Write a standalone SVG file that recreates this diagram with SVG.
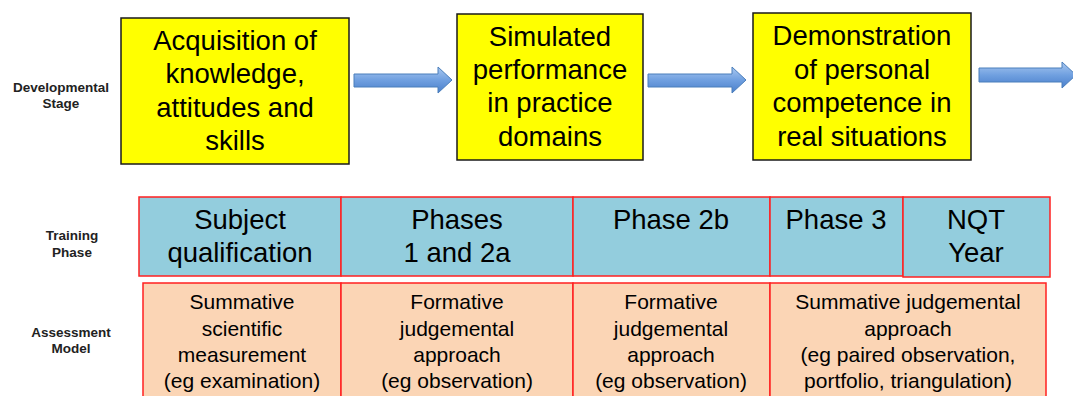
<svg xmlns="http://www.w3.org/2000/svg" width="1073" height="396" viewBox="0 0 1073 396">
<defs>
<linearGradient id="ag" x1="0" y1="0" x2="0" y2="1">
<stop offset="0" stop-color="#a9c8f0"/>
<stop offset="0.5" stop-color="#70a0e0"/>
<stop offset="1" stop-color="#4a7fcb"/>
</linearGradient>
<style>
.lbl{font-family:"Liberation Sans",Arial,sans-serif;font-weight:bold;font-size:13.5px;fill:#222;text-anchor:middle}
.stage rect{fill:#ffff00;stroke:#1a1a1a;stroke-width:1.5}
.stage text{font-family:"Liberation Sans",Arial,sans-serif;font-size:27.5px;fill:#000;text-anchor:middle}
.phase rect{fill:#93cddd;stroke:#ff2020;stroke-width:1.5}
.phase text{font-family:"Liberation Sans",Arial,sans-serif;font-size:27.5px;fill:#000;text-anchor:middle}
.assess rect{fill:#fbd5b5;stroke:#ff2020;stroke-width:1.5}
.assess text{font-family:"Liberation Sans",Arial,sans-serif;font-size:21px;fill:#000;text-anchor:middle}
.arrow{fill:url(#ag);stroke:#4a7ebb;stroke-width:1}
</style>
</defs>
<rect width="1073" height="396" fill="#fff"/>

<g id="row-labels">
<text class="lbl" x="61" y="92">Developmental</text>
<text class="lbl" x="61" y="108">Stage</text>
<text class="lbl" x="72" y="240">Training</text>
<text class="lbl" x="72" y="257">Phase</text>
<text class="lbl" x="71" y="337">Assessment</text>
<text class="lbl" x="71" y="353">Model</text>
</g>

<g id="stage1" class="stage">
<rect x="121" y="18" width="228" height="146"/>
<text x="235" y="50">Acquisition of</text>
<text x="235" y="83">knowledge,</text>
<text x="235" y="117">attitudes and</text>
<text x="235" y="150">skills</text>
</g>
<g id="stage2" class="stage">
<rect x="457" y="14" width="186" height="146"/>
<text x="550" y="46">Simulated</text>
<text x="550" y="79">performance</text>
<text x="550" y="112">in practice</text>
<text x="550" y="146">domains</text>
</g>
<g id="stage3" class="stage">
<rect x="753" y="13" width="218" height="147"/>
<text x="862" y="45">Demonstration</text>
<text x="862" y="79">of personal</text>
<text x="862" y="112">competence in</text>
<text x="862" y="146">real situations</text>
</g>

<g id="connectors">
<polygon class="arrow" points="354,74 438,74 438,67 452,80 438,93 438,87 354,87"/>
<polygon class="arrow" points="648,74 732,74 732,67 746,80 732,93 732,87 648,87"/>
<polygon class="arrow" points="979,68 1062,68 1062,62 1076,75 1062,88 1062,82 979,82"/>
</g>

<g id="phase-subject" class="phase">
<rect x="139" y="197" width="202" height="79"/>
<text x="240" y="229">Subject</text>
<text x="240" y="262">qualification</text>
</g>
<g id="phase-1-2a" class="phase">
<rect x="341" y="197" width="232" height="79"/>
<text x="457" y="229">Phases</text>
<text x="457" y="262">1 and 2a</text>
</g>
<g id="phase-2b" class="phase">
<rect x="573" y="197" width="197" height="79"/>
<text x="671" y="229">Phase 2b</text>
</g>
<g id="phase-3" class="phase">
<rect x="770" y="197" width="133" height="79"/>
<text x="836" y="229">Phase 3</text>
</g>
<g id="phase-nqt" class="phase">
<rect x="903" y="197" width="147" height="80"/>
<text x="976" y="229">NQT</text>
<text x="976" y="262">Year</text>
</g>

<g id="assess-summative-sci" class="assess">
<rect x="143" y="283" width="198" height="120"/>
<text x="242" y="309">Summative</text>
<text x="242" y="336">scientific</text>
<text x="242" y="362">measurement</text>
<text x="242" y="388">(eg examination)</text>
</g>
<g id="assess-formative-1" class="assess">
<rect x="341" y="283" width="232" height="120"/>
<text x="457" y="309">Formative</text>
<text x="457" y="336">judgemental</text>
<text x="457" y="362">approach</text>
<text x="457" y="388">(eg observation)</text>
</g>
<g id="assess-formative-2" class="assess">
<rect x="573" y="283" width="197" height="120"/>
<text x="671" y="309">Formative</text>
<text x="671" y="336">judgemental</text>
<text x="671" y="362">approach</text>
<text x="671" y="388">(eg observation)</text>
</g>
<g id="assess-summative-judg" class="assess">
<rect x="770" y="283" width="276" height="120"/>
<text x="908" y="309">Summative judgemental</text>
<text x="908" y="336">approach</text>
<text x="908" y="362">(eg paired observation,</text>
<text x="908" y="388">portfolio, triangulation)</text>
</g>
</svg>
